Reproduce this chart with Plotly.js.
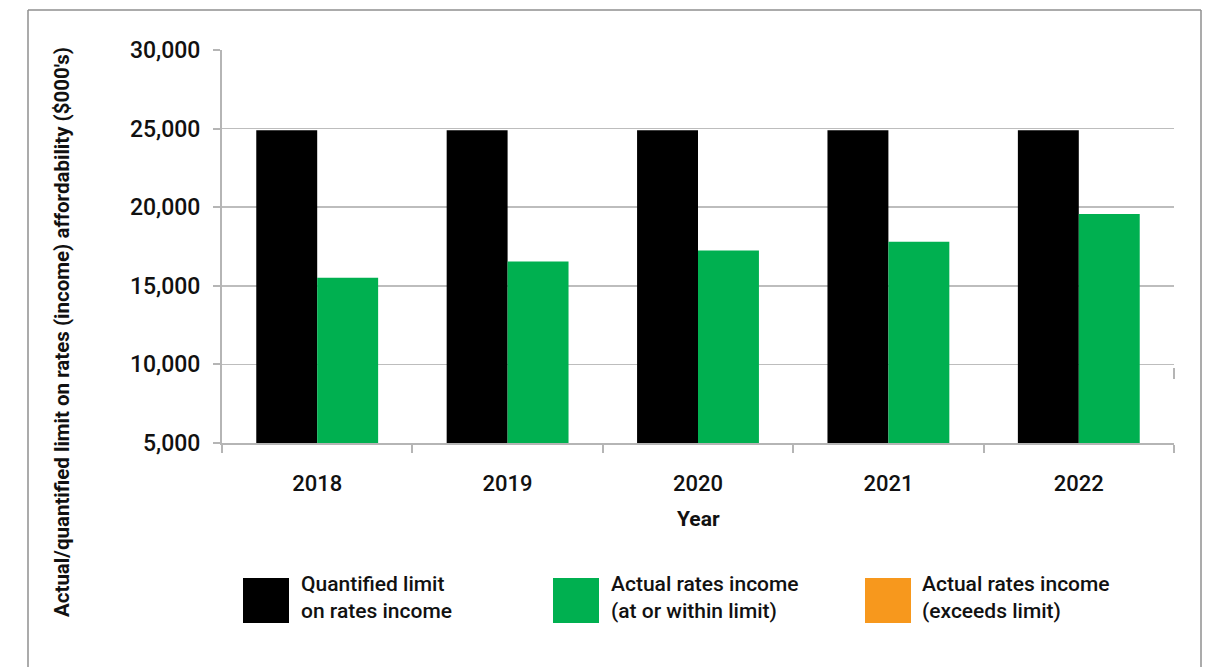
<!DOCTYPE html>
<html>
<head>
<meta charset="utf-8">
<script src="https://cdn.plot.ly/plotly-3.0.1.min.js"></script>
<style>
html,body{margin:0;padding:0;background:#fff;}
#chart{width:1212px;height:667px;}
</style>
</head>
<body>
<div id="chart"></div>
<script>
// ---- data ----
const years = ['2018', '2019', '2020', '2021', '2022'];
const limitValues = [24900, 24900, 24900, 24900, 24900];
const actualWithin = [15510, 16550, 17250, 17810, 19560];
const actualExceeds = [null, null, null, null, null];
const seriesNames = ['Quantified limit<br>on rates income', 'Actual rates income<br>(at or within limit)', 'Actual rates income<br>(exceeds limit)'];
const seriesColors = ['#000000', '#00B050', '#F7981D'];
const yTicks = [5000, 10000, 15000, 20000, 25000, 30000];
const yTitle = "Actual/quantified limit on rates (income) affordability ($000's)";
const xTitle = 'Year';

// ---- geometry helpers (plot area in pixels) ----
const W = 1212, H = 667;
const PL = 222, PR = 1174, PT = 50, PB = 443;
const px = x => (x - PL) / (PR - PL);
const py = y => (PB - y) / (PB - PT);

const FONT = 'Roboto, "Noto Sans", sans-serif';

const traces = [
  {type: 'bar', x: years, y: limitValues, name: seriesNames[0], offsetgroup: 'limit',
   marker: {color: seriesColors[0], line: {width: 0}}, showlegend: false},
  {type: 'bar', x: years, y: actualWithin, name: seriesNames[1], offsetgroup: 'actual',
   marker: {color: seriesColors[1], line: {width: 0}}, showlegend: false},
  {type: 'bar', x: years, y: actualExceeds, name: seriesNames[2], offsetgroup: 'actual',
   marker: {color: seriesColors[2], line: {width: 0}}, showlegend: false}
];

const shapes = [];
const annotations = [];

// outer frame (left, top, right)
const frameColor = '#8f8f8f';
shapes.push({type: 'line', xref: 'paper', yref: 'paper', x0: px(28), x1: px(28), y0: py(10), y1: py(680), line: {color: frameColor, width: 1.5}});
shapes.push({type: 'line', xref: 'paper', yref: 'paper', x0: px(28), x1: px(1201), y0: py(10), y1: py(10), line: {color: frameColor, width: 1.5}});
shapes.push({type: 'line', xref: 'paper', yref: 'paper', x0: px(1201), x1: px(1201), y0: py(10), y1: py(680), line: {color: frameColor, width: 1.5}});
// small stray tick at right edge
shapes.push({type: 'line', xref: 'paper', yref: 'paper', x0: px(1174), x1: px(1174), y0: py(368), y1: py(379), line: {color: '#b5b5b5', width: 2}});

// custom legend
const swX = [243, 553, 865];
const txX = [299, 609, 920];
for (let i = 0; i < 3; i++) {
  shapes.push({type: 'rect', xref: 'paper', yref: 'paper', x0: px(swX[i]), x1: px(swX[i] + 46),
    y0: py(578), y1: py(623), fillcolor: seriesColors[i], line: {width: 0}});
  annotations.push({xref: 'paper', yref: 'paper', x: px(txX[i]), y: py(597), xanchor: 'left', yanchor: 'middle',
    align: 'left', showarrow: false, text: seriesNames[i], font: {family: FONT, size: 21, color: '#111', weight: 500}});
}

// axis titles
annotations.push({xref: 'paper', yref: 'paper', x: px(62), y: py(332), xanchor: 'center', yanchor: 'middle',
  textangle: -90, showarrow: false, text: '<b>' + yTitle + '</b>', font: {family: FONT, size: 20.5, color: '#111'}});
annotations.push({xref: 'paper', yref: 'paper', x: 0.5, y: py(519), xanchor: 'center', yanchor: 'middle',
  showarrow: false, text: '<b>' + xTitle + '</b>', font: {family: FONT, size: 21, color: '#111'}});

const layout = {
  width: W, height: H,
  margin: {l: PL, r: W - PR, t: PT, b: H - PB, pad: 0},
  paper_bgcolor: '#ffffff', plot_bgcolor: '#ffffff',
  barmode: 'group', bargap: 0.36, bargroupgap: 0,
  showlegend: false,
  xaxis: {
    type: 'category', showline: true, linecolor: '#b5b5b5', linewidth: 2,
    ticks: 'outside', tickson: 'boundaries', ticklen: 8, tickwidth: 2, tickcolor: '#b5b5b5',
    ticklabelstandoff: 20,
    tickfont: {family: FONT, size: 22, color: '#111', weight: 500},
    showgrid: false, zeroline: false, fixedrange: true
  },
  yaxis: {
    range: [5000, 30000], tickvals: yTicks, tickformat: ',d',
    showline: true, linecolor: '#b5b5b5', linewidth: 2,
    ticks: 'outside', ticklen: 7, tickwidth: 2, tickcolor: '#b5b5b5',
    ticklabelstandoff: 8,
    tickfont: {family: FONT, size: 23, color: '#111', weight: 500},
    showgrid: true, gridcolor: '#bdbdbd', gridwidth: 1.5, zeroline: false, fixedrange: true
  },
  shapes: shapes,
  annotations: annotations
};

Plotly.newPlot('chart', traces, layout, {displayModeBar: false, staticPlot: true});
</script>
</body>
</html>
